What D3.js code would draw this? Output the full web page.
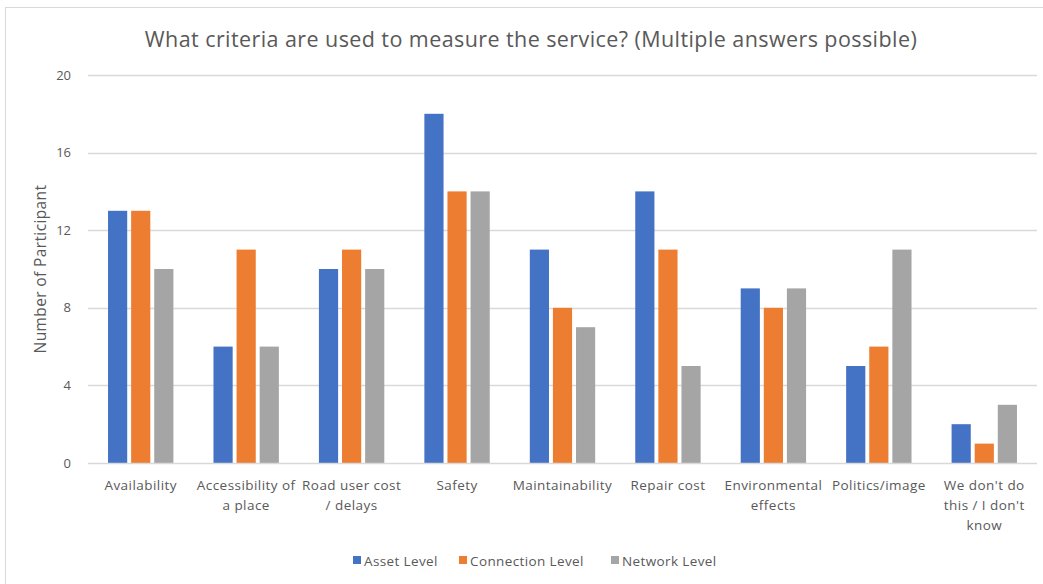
<!DOCTYPE html>
<html>
<head>
<meta charset="utf-8">
<script src="https://cdn.jsdelivr.net/npm/d3@7"></script>
<style>
  html, body { margin: 0; padding: 0; background: #fff; }
  svg { display: block; }
  text { font-family: "Open Sans", "Lato", sans-serif; fill: #595959; }
</style>
</head>
<body>
<svg id="chart" width="1043" height="584"></svg>
<script>
// Survey answers per criterion (category labels use "\n" for line breaks)
const categories = [
  "Availability",
  "Accessibility of\na place",
  "Road user cost\n/ delays",
  "Safety",
  "Maintainability",
  "Repair cost",
  "Environmental\neffects",
  "Politics/image",
  "We don't do\nthis / I don't\nknow"
];
const seriesNames = ["Asset Level", "Connection Level", "Network Level"];
const assetLevel      = [13, 6, 10, 18, 11, 14, 9, 5, 2];
const connectionLevel = [13, 11, 11, 14, 8, 11, 8, 6, 1];
const networkLevel    = [10, 6, 10, 14, 7, 5, 9, 11, 3];
const yTicks = [0, 4, 8, 12, 16, 20];

const seriesValues = [assetLevel, connectionLevel, networkLevel];
const colors = ["#4472C4", "#ED7D31", "#A5A5A5"];
const FONT = '"Open Sans", "Lato", sans-serif';

const svg = d3.select("#chart");
const W = 1043, H = 584;
const plot = { left: 88, right: 1037, top: 75, bottom: 463 };

// chart frame
svg.append("rect")
  .attr("x", 5.5).attr("y", 7.5)
  .attr("width", W + 10).attr("height", H + 10)
  .attr("fill", "#fff").attr("stroke", "#D9D9D9").attr("stroke-width", 1);

const x0 = d3.scaleBand()
  .domain(categories)
  .range([plot.left, plot.right])
  .paddingInner(0.38)
  .paddingOuter(0.19);

const x1 = d3.scaleBand()
  .domain(seriesNames)
  .range([0, x0.bandwidth()])
  .paddingInner(0.17);

const y = d3.scaleLinear().domain([0, 20]).range([plot.bottom, plot.top]);

// gridlines
svg.append("g")
  .selectAll("line")
  .data(yTicks.filter(t => t > 0))
  .join("line")
  .attr("x1", plot.left).attr("x2", plot.right)
  .attr("y1", d => Math.round(y(d)) + 0.5).attr("y2", d => Math.round(y(d)) + 0.5)
  .attr("stroke", "#D9D9D9").attr("stroke-width", 1.3);

// y axis labels
const yAxis = d3.axisLeft(y).tickValues(yTicks).tickSize(0).tickPadding(17);
const gy = svg.append("g").attr("transform", `translate(${plot.left},0)`).call(yAxis);
gy.select(".domain").remove();
gy.selectAll("text")
  .style("font-family", FONT)
  .style("font-size", "13px").attr("fill", "#595959");

// bars
const groups = svg.append("g")
  .selectAll("g")
  .data(categories.map((c, i) => ({ c, i })))
  .join("g")
  .attr("transform", d => `translate(${x0(d.c)},0)`);

groups.selectAll("rect")
  .data(d => seriesNames.map((s, k) => ({ s, k, v: seriesValues[k][d.i] })))
  .join("rect")
  .attr("x", d => x1(d.s))
  .attr("width", x1.bandwidth())
  .attr("y", d => y(d.v))
  .attr("height", d => y(0) - y(d.v))
  .attr("fill", d => colors[d.k]);

// baseline
svg.append("line")
  .attr("x1", plot.left).attr("x2", plot.right)
  .attr("y1", Math.round(y(0)) + 0.5).attr("y2", Math.round(y(0)) + 0.5)
  .attr("stroke", "#D9D9D9").attr("stroke-width", 1.3);

// category labels
const xAxis = d3.axisBottom(x0).tickSize(0).tickFormat("");
const gx = svg.append("g").attr("transform", `translate(0,${plot.bottom})`).call(xAxis);
gx.select(".domain").remove();
gx.selectAll(".tick").each(function (d) {
  const t = d3.select(this).append("text")
    .attr("text-anchor", "middle")
    .attr("y", 27)
    .style("font-size", "13.5px")
    .style("letter-spacing", "0.45px");
  d.split("\n").forEach((line, j) => {
    t.append("tspan").attr("x", 0).attr("dy", j === 0 ? 0 : 20).text(line);
  });
});

// title
svg.append("text")
  .attr("x", 531).attr("y", 47)
  .attr("text-anchor", "middle")
  .style("font-size", "21.5px")
  .style("letter-spacing", "0.42px")
  .text("What criteria are used to measure the service? (Multiple answers possible)");

// y axis title
svg.append("text")
  .attr("transform", "translate(46,269) rotate(-90)")
  .attr("text-anchor", "middle")
  .style("font-size", "15.5px")
  .style("letter-spacing", "0.38px")
  .text("Number of Participant");

// legend
const legendX = [353, 459, 611];
const legend = svg.append("g").selectAll("g")
  .data(seriesNames)
  .join("g")
  .attr("transform", (d, i) => `translate(${legendX[i]},556)`);
legend.append("rect").attr("width", 8).attr("height", 8).attr("fill", (d, i) => colors[i]);
legend.append("text").attr("x", 11).attr("y", 9.5)
  .style("font-size", "13.5px").style("letter-spacing", "0.38px").text(d => d);
</script>
</body>
</html>
